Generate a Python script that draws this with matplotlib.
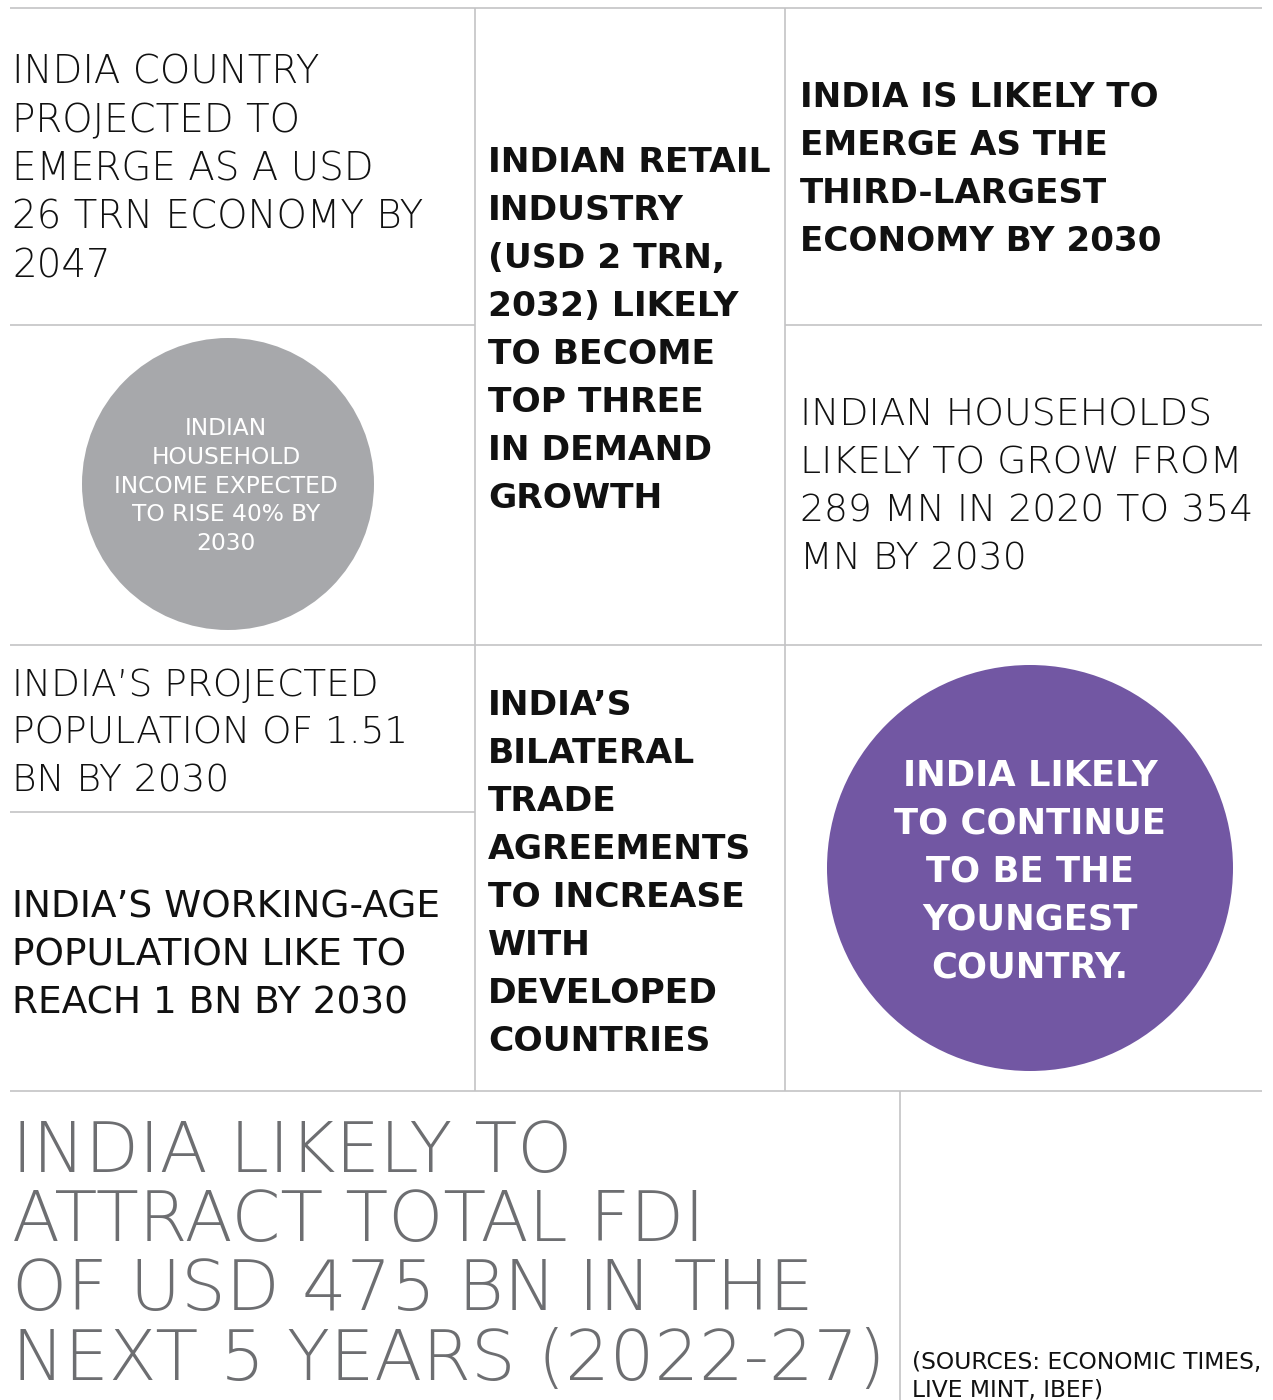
import matplotlib
matplotlib.use("Agg")
import matplotlib.pyplot as plt
from matplotlib.patches import Circle

# ---------------- content ----------------
economy_2047 = ["INDIA COUNTRY", "PROJECTED TO", "EMERGE AS A USD", "26 TRN ECONOMY BY", "2047"]
retail = ["INDIAN RETAIL", "INDUSTRY", "(USD 2 TRN,", "2032) LIKELY", "TO BECOME",
          "TOP THREE", "IN DEMAND", "GROWTH"]
third_largest = ["INDIA IS LIKELY TO", "EMERGE AS THE", "THIRD-LARGEST", "ECONOMY BY 2030"]
income = ["INDIAN", "HOUSEHOLD", "INCOME EXPECTED", "TO RISE 40% BY", "2030"]
households = ["INDIAN HOUSEHOLDS", "LIKELY TO GROW FROM", "289 MN IN 2020 TO 354", "MN BY 2030"]
population = ["INDIA\u2019S PROJECTED", "POPULATION OF 1.51", "BN BY 2030"]
working_age = ["INDIA\u2019S WORKING-AGE", "POPULATION LIKE TO", "REACH 1 BN BY 2030"]
bilateral = ["INDIA\u2019S", "BILATERAL", "TRADE", "AGREEMENTS", "TO INCREASE", "WITH",
             "DEVELOPED", "COUNTRIES"]
youngest = ["INDIA LIKELY", "TO CONTINUE", "TO BE THE", "YOUNGEST", "COUNTRY."]
fdi = ["INDIA LIKELY TO", "ATTRACT TOTAL FDI", "OF USD 475 BN IN THE", "NEXT 5 YEARS (2022-27)"]
sources = ["(SOURCES: ECONOMIC TIMES,", "LIVE MINT, IBEF)"]

# ---------------- figure ----------------
W, H = 1273, 1400
fig = plt.figure(figsize=(W / 100, H / 100), dpi=100)
ax = fig.add_axes([0, 0, 1, 1])
ax.set_xlim(0, W)
ax.set_ylim(H, 0)
ax.axis("off")

FONT = ["DejaVu Sans"]
LINE = "#c3c3c5"
LW = 1.2

def hline(y, x0, x1):
    ax.plot([x0, x1], [y, y], color=LINE, lw=LW, solid_capstyle="butt")

def vline(x, y0, y1):
    ax.plot([x, x], [y0, y1], color=LINE, lw=LW, solid_capstyle="butt")

hline(8, 10, 1262)
hline(325, 10, 475)
hline(325, 785, 1262)
hline(645, 10, 1262)
hline(812, 10, 475)
hline(1091, 10, 1262)
vline(475, 8, 1091)
vline(785, 8, 1091)
vline(900, 1091, 1400)

def block(lines, x, y0, step, size, weight, color="#111111", ha="left"):
    for i, s in enumerate(lines):
        ax.text(x, y0 + i * step, s, ha=ha, va="baseline", fontsize=size,
                fontweight=weight, color=color, family=FONT)

block(economy_2047, 12, 84, 48.3, 27.9, 200)
block(retail, 488, 172, 48, 24.8, "bold")
block(third_largest, 800, 107, 48, 24.6, "bold")
block(households, 800, 426, 48, 27.2, 200)
block(population, 12, 696, 48, 27.0, 200)
block(working_age, 12, 918, 48, 27.0, "normal")
block(bilateral, 488, 715, 48, 24.8, "bold")

ax.add_patch(Circle((228, 484), 146, color="#a7a8ab", lw=0))
block(income, 226, 435, 28.8, 16.8, "normal", color="white", ha="center")

ax.add_patch(Circle((1030, 868), 203, color="#7257a3", lw=0))
block(youngest, 1030, 786, 48, 25.5, "bold", color="white", ha="center")

block(fdi, 12, 1172, 69.2, 50.5, 200, color="#6d6e71")
block(sources, 912, 1369, 27.5, 16.8, "normal")

fig.savefig("out.png", dpi=100, facecolor="white")
